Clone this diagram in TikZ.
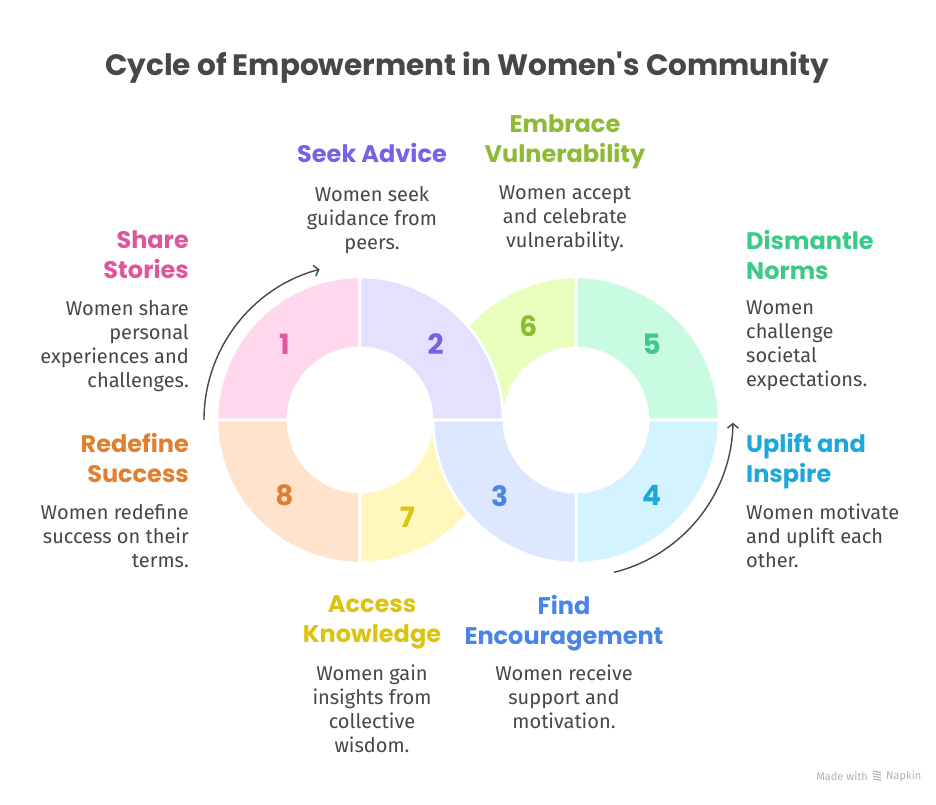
\documentclass[tikz,border=0pt]{standalone}
\usepackage{fontspec}
\setmainfont{Fira Sans}
\newfontfamily\headfont{Poppins}
\usetikzlibrary{arrows.meta,calc}

\definecolor{txtgray}{HTML}{474747}
\definecolor{fillA}{HTML}{FFD8EE}\definecolor{colA}{HTML}{E0559F}
\definecolor{fillB}{HTML}{E6E0FF}\definecolor{colB}{HTML}{7A60E6}
\definecolor{fillC}{HTML}{DDE8FF}\definecolor{colC}{HTML}{4A85E6}
\definecolor{fillD}{HTML}{D3F4FE}\definecolor{colD}{HTML}{1DA8DA}
\definecolor{fillE}{HTML}{C9FBE3}\definecolor{colE}{HTML}{3CC98A}
\definecolor{fillF}{HTML}{E9FDBC}\definecolor{colF}{HTML}{8DBB33}
\definecolor{fillG}{HTML}{FFF7BB}\definecolor{colG}{HTML}{DBC30E}
\definecolor{fillH}{HTML}{FFE3CC}\definecolor{colH}{HTML}{E0802E}

\newcommand{\rin}{72}
\newcommand{\rout}{143}
% one quarter of a ring: centre, from, to, fill
\newcommand{\ringseg}[4]{%
  \filldraw[seg,fill=#4] ($(#1)+(#2:\rin)$) arc[start angle=#2,end angle=#3,radius=\rin]
    -- ($(#1)+(#3:\rout)$) arc[start angle=#3,end angle=#2,radius=\rout] -- cycle;}

\tikzset{
  seg/.style={draw=white,line width=2.6pt},
  num/.style={font=\headfont\bfseries\fontsize{28}{30}\selectfont},
  head/.style={font=\headfont\bfseries\fontsize{24}{30}\selectfont,inner sep=0pt},
  body/.style={font=\fontsize{20}{24}\selectfont,text=txtgray,inner sep=0pt},
  arr/.style={draw=txtgray,line width=1.4pt,-{Straight Barb[length=4.5pt,width=11pt]}}
}

\begin{document}
\begin{tikzpicture}[x=1pt,y=1pt]
\useasboundingbox (0,0) rectangle (936,804);
\fill[white] (0,0) rectangle (936,804);

\coordinate (L) at (360,384);
\coordinate (R) at (576,384);

\ringseg{R}{90}{180}{fillF}
\ringseg{R}{0}{90}{fillE}
\ringseg{R}{270}{360}{fillD}
\ringseg{L}{90}{180}{fillA}
\ringseg{L}{180}{270}{fillH}
\ringseg{L}{270}{360}{fillG}
\ringseg{L}{0}{90}{fillB}
\ringseg{R}{180}{270}{fillC}

\node[num,text=colA] (n1) at ($(L)+(135:107)$) {1};
\node[num,text=colB] (n2) at ($(L)+(45:107)$) {2};
\node[num,text=colC] (n3) at ($(R)+(225:108)$) {3};
\node[num,text=colD] (n4) at ($(R)+(-45:107)$) {4};
\node[num,text=colE] (n5) at ($(R)+(45:107)$) {5};
\node[num,text=colF] (n6) at ($(R)+(117:105)$) {6};
\node[num,text=colG] (n7) at ($(L)+(-64:108)$) {7};
\node[num,text=colH] (n8) at ($(L)+(225:107)$) {8};

\coordinate (a1s) at ($(L)+(180:156)$);
\coordinate (a2s) at ($(R)+(-76:157)$);
\draw[arr] (a1s) arc[start angle=180,end angle=105,radius=156];
\draw[arr] (a2s) arc[start angle=-76,end angle=-1,radius=157];

\node[font=\headfont\bfseries\fontsize{29.5}{32}\selectfont,text=txtgray] (title) at (467,736)
  {Cycle of Empowerment in Women's Community};

\node[head,text=colA,anchor=north east,align=right] (h1) at (189,573) {Share\\Stories};
\node[body,anchor=north east,align=right] (b1) at (189,504) {Women share\\personal\\experiences and\\challenges.};
\node[head,text=colH,anchor=north east,align=right] (h8) at (189,371) {Redefine\\Success};
\node[body,anchor=north east,align=right] (b8) at (189,300) {Women redefine\\success on their\\terms.};
\node[head,text=colB,anchor=north,align=center] (h2) at (372,661) {Seek Advice};
\node[body,anchor=north,align=center] (b2) at (372,618) {Women seek\\guidance from\\peers.};
\node[head,text=colF,anchor=north,align=center] (h6) at (565,689) {Embrace\\Vulnerability};
\node[body,anchor=north,align=center] (b6) at (565,618) {Women accept\\and celebrate\\vulnerability.};
\node[head,text=colE,anchor=north west,align=left] (h5) at (746,574) {Dismantle\\Norms};
\node[body,anchor=north west,align=left] (b5) at (746,503) {Women\\challenge\\societal\\expectations.};
\node[head,text=colD,anchor=north west,align=left] (h4) at (746,371) {Uplift and\\Inspire};
\node[body,anchor=north west,align=left] (b4) at (746,300) {Women motivate\\and uplift each\\other.};
\node[head,text=colG,anchor=north,align=center] (h7) at (372,209) {Access\\Knowledge};
\node[body,anchor=north,align=center] (b7) at (372,139) {Women gain\\insights from\\collective\\wisdom.};
\node[head,text=colC,anchor=north,align=center] (h3) at (564,209) {Find\\Encouragement};
\node[body,anchor=north,align=center] (b3) at (564,139) {Women receive\\support and\\motivation.};

% footer
\node[font=\fontsize{11}{12}\selectfont,text=black!30,anchor=east,inner sep=0pt] (made) at (868,28) {Made with};
\node[font=\fontsize{11}{12}\selectfont,text=black!30,anchor=west,inner sep=0pt] (napkin) at (886,28) {Napkin};
\foreach \k in {0,1,2,3}
  \draw[black!30,line width=1.1pt] (873,33-2.6*\k) -- (881,31.5-2.6*\k);
\end{tikzpicture}
\end{document}
